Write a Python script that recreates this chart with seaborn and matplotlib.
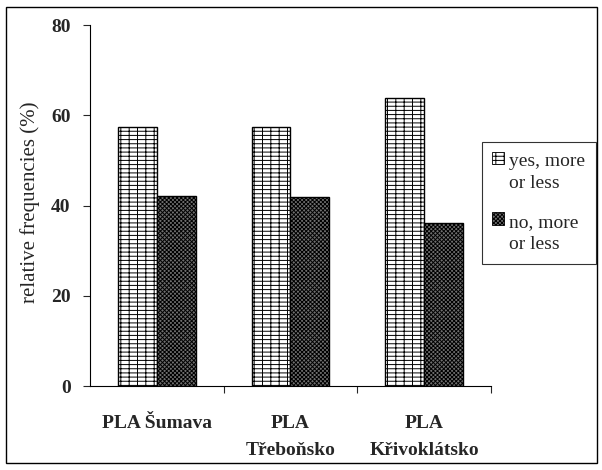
import matplotlib
matplotlib.use("Agg")
import matplotlib.pyplot as plt
from matplotlib.patches import Patch, Rectangle
from matplotlib.legend_handler import HandlerPatch
import pandas as pd
import seaborn as sns

sns.set_theme(style="white")
plt.rcParams["font.family"] = ["Liberation Serif", "DejaVu Serif"]
plt.rcParams["hatch.linewidth"] = 0.7

# --- data -----------------------------------------------------------------
regions = ["PLA Šumava", "PLA\nTřeboňsko", "PLA\nKřivoklátsko"]
answers = ["yes, more\nor less", "no, more\nor less"]
yes_vals = [57.3, 57.4, 63.8]
no_vals = [42.2, 42.0, 36.1]

df = pd.DataFrame({
    "region": regions * 2,
    "answer": [answers[0]] * 3 + [answers[1]] * 3,
    "freq": yes_vals + no_vals,
})

FS = 14

fig = plt.figure(figsize=(6.02, 4.70), dpi=100)
ax = fig.add_axes([0.1495, 0.1787, 0.666, 0.768])

sns.barplot(data=df, x="region", y="freq", hue="answer", order=regions,
            hue_order=answers, width=0.58, ax=ax, legend=False,
            edgecolor="black", linewidth=1.0)

styles = [dict(facecolor="white", hatch="----||"),
          dict(facecolor="#707070", hatch="xxxxxxxx")]
for cont, st in zip(ax.containers, styles):
    for bar in cont:
        bar.set_facecolor(st["facecolor"])
        bar.set_hatch(st["hatch"])
        bar.set_edgecolor("black")

ax.set_ylim(0, 80)
ax.set_xlim(-0.5, 2.5)
ax.set_yticks([0, 20, 40, 60, 80])
ax.tick_params(axis="y", direction="out", length=5, width=0.8, left=True,
               labelsize=FS, pad=9)
for t in ax.get_yticklabels():
    t.set_fontweight("bold")
ax.set_xticks([0, 1, 2])
ax.set_xticklabels(regions, fontweight="bold", fontsize=FS, linespacing=1.75)
ax.set_xticks([0.5, 1.5, 2.5], minor=True)
ax.tick_params(axis="x", which="major", length=0, pad=21)
ax.tick_params(axis="x", which="minor", direction="out", length=5, width=0.8,
               bottom=True)
ax.set_xlabel("")
ax.set_ylabel("relative frequencies (%)", fontsize=15)
ax.yaxis.set_label_coords(-0.125, 0.51)

for side in ["top", "right"]:
    ax.spines[side].set_visible(False)
for side in ["left", "bottom"]:
    ax.spines[side].set_color("black")
    ax.spines[side].set_linewidth(0.8)


# legend square sits next to the first line of each two-line label
def top_square(legend, orig_handle, xdescent, ydescent, width, height, fontsize):
    return Rectangle((-xdescent, -ydescent + 0.75 * fontsize), width, height)


handles = [Patch(facecolor=st["facecolor"], hatch=st["hatch"], edgecolor="black",
                 linewidth=0.6) for st in styles]
leg = fig.legend(handles, answers, loc="upper left", bbox_to_anchor=(0.80, 0.697),
                 fontsize=FS, frameon=True, fancybox=False, edgecolor="black",
                 handlelength=0.6, handleheight=0.6, handletextpad=0.25,
                 labelspacing=1.1, borderpad=0.55, borderaxespad=0,
                 handler_map={Patch: HandlerPatch(patch_func=top_square)})
for t in leg.get_texts():
    t.set_linespacing(1.4)
leg.get_frame().set_linewidth(0.8)

# outer frame around the whole chart
fig.patches.append(Rectangle((6 / 602, 7 / 470), 591 / 602, 456 / 470,
                             transform=fig.transFigure, fill=False,
                             edgecolor="black", linewidth=1.0))

fig.savefig("out.png", dpi=100)
